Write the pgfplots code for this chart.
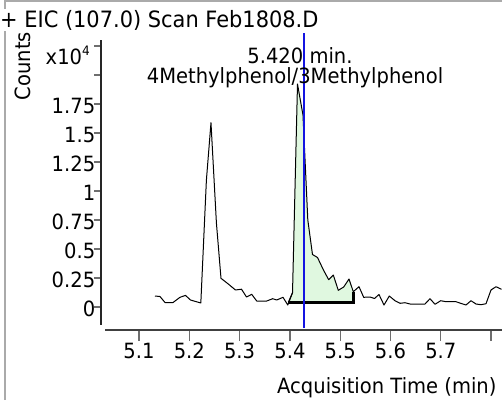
\documentclass[border=0pt]{standalone}
\usepackage{pgfplots}
\pgfplotsset{compat=1.18}
\usepackage{fontspec}
\setmainfont[FakeStretch=0.93]{DejaVu Sans}
\definecolor{fillgreen}{RGB}{224,248,224}
\definecolor{framegray}{RGB}{170,170,170}
\definecolor{tickgray}{RGB}{110,110,110}
\definecolor{cursorblue}{RGB}{20,20,225}
\newcommand{\F}{\fontsize{21pt}{25pt}\selectfont}
\begin{document}
\begin{tikzpicture}[x=1pt,y=1pt]
\useasboundingbox (0,0) rectangle (502,400);
\draw[framegray, line width=2pt] (5,0) -- (5,398.5) -- (502,398.5);
\begin{axis}[at={(101pt,70pt)}, anchor=south west, scale only axis,
  width=401pt, height=290pt,
  xmin=5.02445, xmax=5.82167, ymin=-0.19828, ymax=2.30172,
  clip=false, axis line style={draw=none},
  /pgf/number format/assume math mode=true,
  tick align=outside, xtick pos=bottom, ytick pos=left,
  xtick={5.1,5.2,5.3,5.4,5.5,5.6,5.7,5.8},
  xticklabels={5.1,5.2,5.3,5.4,5.5,5.6,5.7,{}},
  ytick={0,0.25,0.5,0.75,1,1.25,1.5,1.75,2,2.25},
  yticklabels={0,0.25,0.5,0.75,1,1.25,1.5,1.75,{},{}},
  every major x tick/.append style={tickgray, line width=1.3pt, /pgfplots/major tick length=11pt},
  every major y tick/.append style={tickgray, line width=1.3pt, /pgfplots/major tick length=7pt},
  xticklabel style={font=\F, yshift=-5pt},
  yticklabel style={font=\F, anchor=east, xshift=2pt, yshift=-2pt},
  xlabel={Acquisition Time (min)},
  xlabel style={font=\F, at={(axis description cs:0.99501,-0.21724)}, anchor=base east},
  ylabel={Counts},
  ylabel style={font=\F, at={(axis description cs:-0.19451,0.91034)}, anchor=center},
]
% axis lines
\draw[black!85, line width=1.3pt] (axis cs:5.02445,2.30172) -- (axis cs:5.02445,-0.155);
\draw[black!75, line width=1.3pt] (axis cs:5.0324,-0.19828) -- (axis cs:5.82167,-0.19828);
% integrated area
\addplot[fill=fillgreen, draw=none] coordinates {
(5.3968,0.0405) (5.4052,0.1233) (5.4151,1.9224) (5.4260,1.6552) (5.4356,0.7500)
(5.4449,0.4526) (5.4549,0.4267) (5.4664,0.3216) (5.4771,0.2353) (5.4863,0.2759)
(5.4962,0.1440) (5.5070,0.1724) (5.5175,0.2414) (5.5266,0.1319) (5.5266,0.0405)} -- cycle;
\addplot[black, line width=1pt] coordinates {(5.3968,0.0405) (5.4052,0.1233)};
\addplot[black, line width=2.6pt] coordinates {(5.3968,0.0405) (5.5266,0.0405) (5.5266,0.1319)};
% chromatogram
\addplot[black, line width=1pt, line join=round] coordinates {
(5.1318,0.0948) (5.1417,0.0905) (5.1517,0.0388) (5.1676,0.0388) (5.1815,0.0836)
(5.1924,0.1000) (5.2024,0.0603) (5.2229,0.0345) (5.2340,1.0948) (5.2431,1.5888)
(5.2539,0.7241) (5.2630,0.2474) (5.2775,0.1983) (5.2918,0.1466) (5.3038,0.1534)
(5.3137,0.0862) (5.3241,0.1095) (5.3340,0.0517) (5.3539,0.0517) (5.3658,0.0716)
(5.3738,0.0603) (5.3863,0.0836) (5.3958,0.0172) (5.4052,0.1233) (5.4151,1.9224)
(5.4260,1.6552) (5.4356,0.7500) (5.4449,0.4526) (5.4549,0.4267) (5.4664,0.3216)
(5.4771,0.2353) (5.4863,0.2759) (5.4962,0.1440) (5.5070,0.1724) (5.5175,0.2414)
(5.5260,0.1319) (5.5374,0.1750) (5.5467,0.0836) (5.5592,0.0862) (5.5682,0.0733)
(5.5771,0.1078) (5.5871,0.0172) (5.5976,0.0948) (5.6089,0.0543) (5.6189,0.0319)
(5.6288,0.0371) (5.6388,0.0259) (5.6686,0.0259) (5.6785,0.0716) (5.6885,0.0233)
(5.6998,0.0543) (5.7103,0.0457) (5.7302,0.0457) (5.7396,0.0319) (5.7501,0.0172)
(5.7600,0.0543) (5.7700,0.0259) (5.7799,0.0198) (5.7899,0.0284) (5.7998,0.1466)
(5.8097,0.1750) (5.8207,0.1526)};
% cursor line
\addplot[cursorblue, line width=1.2pt] coordinates {(5.4280,-0.181) (5.4280,2.362)};
\end{axis}
\node[anchor=east, inner sep=0pt, font=\F] at (90,345) {x10\raisebox{9pt}{\fontsize{13pt}{13pt}\selectfont 4}};
\node[anchor=base west, inner sep=1pt, fill=white, font=\fontsize{22.5pt}{26pt}\selectfont] at (-1,373) {+ EIC (107.0) Scan Feb1808.D};
\node[anchor=base, inner sep=0pt, font=\F] at (300,337) {5.420 min.};
\node[anchor=base, inner sep=0pt, font=\F] at (295,317) {4Methylphenol/3Methylphenol};
\end{tikzpicture}
\end{document}
